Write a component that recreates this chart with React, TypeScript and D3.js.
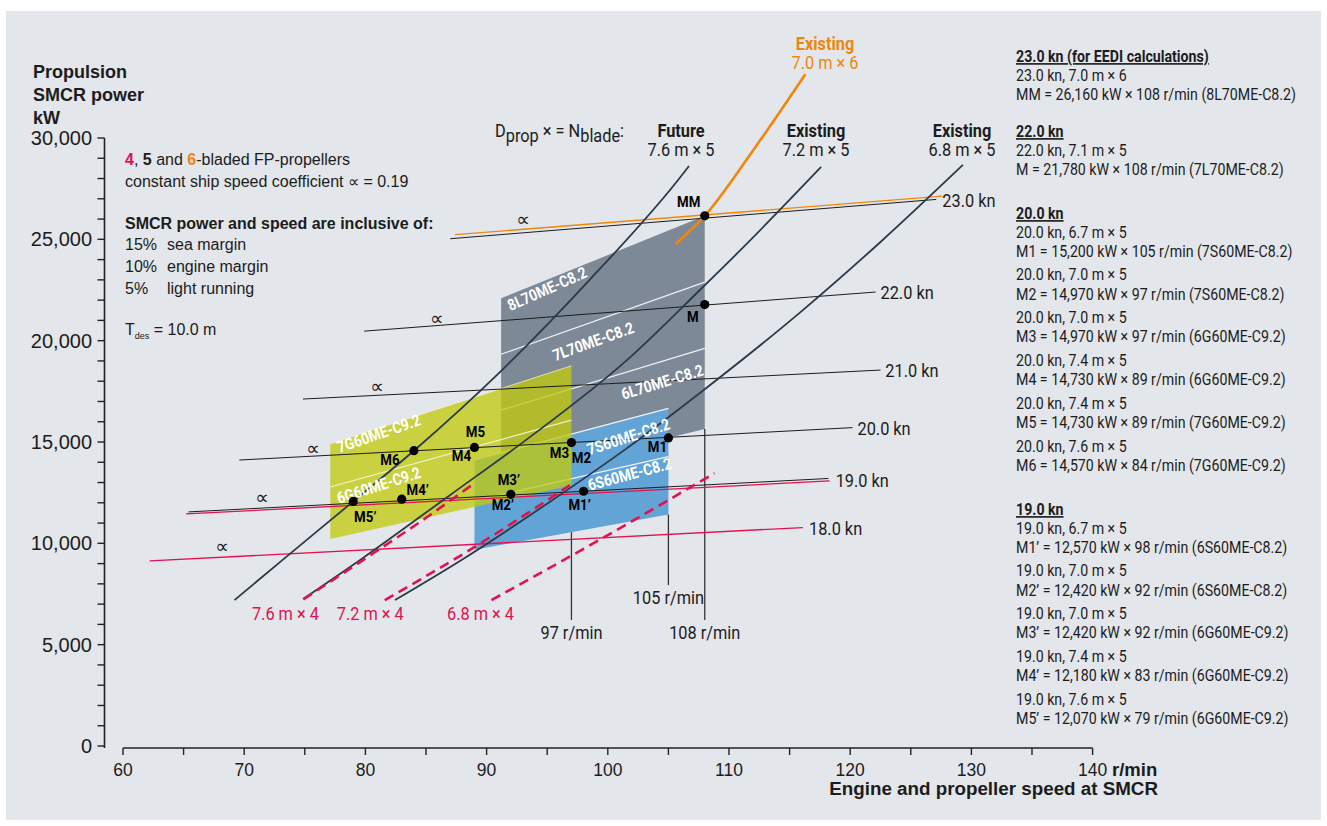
import React from "react";
import * as d3 from "d3";

const W = 1327;
const H = 826;

// ---------- axis ticks ----------
const speedMajorTicks = [60, 70, 80, 90, 100, 110, 120, 130, 140];
const speedMinorTicks = [60, 65, 70, 75, 80, 85, 90, 95, 100, 105, 110, 115, 120, 125, 130, 135, 140];
const powerMajorTicks = [0, 5000, 10000, 15000, 20000, 25000, 30000];
const powerTickLabels = ["0", "5,000", "10,000", "15,000", "20,000", "25,000", "30,000"];
const powerMinorTicks = d3.range(0, 30001, 1000);

// ---------- propeller curves [r/min, kW] ----------
const prop76x5: [number, number][] = [[69.2, 7200], [73, 9100], [79, 12070], [84, 14570], [91.1, 18450], [98.5, 23000], [105.8, 27930], [106.7, 28620]];
const prop72x5: [number, number][] = [[74.85, 7250], [79.8, 9280], [87, 12390], [93.1, 15030], [101.6, 19050], [107.6, 22500], [111, 24500], [117.6, 28570]];
const prop68x5: [number, number][] = [[82.44, 7200], [87.8, 9130], [95.2, 12040], [101.5, 14660], [107.6, 17420], [115.9, 21410], [122.5, 24870], [129.3, 28670]];
const prop76x4: [number, number][] = [[74.9, 7240], [80, 9250], [85.1, 11300], [88.8, 12880]];
const prop72x4: [number, number][] = [[81.6, 7200], [89.5, 10000], [97.3, 13040]];
const prop68x4: [number, number][] = [[90.4, 7200], [99.4, 10200], [108.8, 13460]];
const prop70x6: [number, number][] = [[105.6, 24770], [108, 26160], [112, 29400], [116.3, 33150]];

// ---------- constant ship speed lines [r/min, kW] ----------
const kn23orange: [number, number][] = [[87.4, 25230], [127.6, 27130]];
const kn23: [number, number][] = [[87, 25030], [127.1, 26970]];
const kn22: [number, number][] = [[79.9, 20470], [122.1, 22400]];
const kn21: [number, number][] = [[74.85, 17120], [122.5, 18550]];
const kn20: [number, number][] = [[69.6, 14110], [120.2, 15710]];
const kn19: [number, number][] = [[65.4, 11550], [118.2, 13200]];
const kn19red: [number, number][] = [[65.2, 11450], [118.3, 13080]];
const kn18red: [number, number][] = [[62.2, 9130], [116.1, 10780]];

const speedLabels = [
  { text: "23.0 kn", rpm: 127.6, kw: 26960 },
  { text: "22.0 kn", rpm: 122.5, kw: 22380 },
  { text: "21.0 kn", rpm: 122.9, kw: 18540 },
  { text: "20.0 kn", rpm: 120.6, kw: 15700 },
  { text: "19.0 kn", rpm: 118.8, kw: 13130 },
  { text: "18.0 kn", rpm: 116.6, kw: 10780 },
];
const alphaMarks: [number, number][] = [[93.0, 26000], [85.9, 21120], [80.96, 17760], [75.68, 14700], [71.47, 12290], [68.17, 9870]];

// ---------- engine layout areas [r/min, kW] ----------
const areaL70: [number, number][] = [[91.2, 22090], [108, 26160], [108, 15640], [91.2, 13200]];
const areaL70Lines: [number, number][][] = [[[91.2, 19330], [108, 22890]], [[91.2, 16570], [108, 19620]]];
const areaS60: [number, number][] = [[89, 14120], [105, 16660], [105, 11420], [89, 9680]];
const areaS60Lines: [number, number][][] = [[[89, 12100], [105, 14280]]];
const areaG60: [number, number][] = [[77.1, 14910], [97, 18760], [97, 12860], [77.1, 10220]];
const areaG60Lines: [number, number][][] = [[[77.1, 12780], [97, 16080]]];

const areaLabels = [
  { text: "8L70ME-C8.2", rpm: 95.0, kw: 22550, rot: -24 },
  { text: "7L70ME-C8.2", rpm: 98.8, kw: 19950, rot: -20 },
  { text: "6L70ME-C8.2", rpm: 104.5, kw: 17950, rot: -17 },
  { text: "7S60ME-C8.2", rpm: 101.7, kw: 15250, rot: -18 },
  { text: "6S60ME-C8.2", rpm: 101.8, kw: 13400, rot: -15 },
  { text: "7G60ME-C9.2", rpm: 81.1, kw: 15400, rot: -19 },
  { text: "6G60ME-C9.2", rpm: 81.1, kw: 12850, rot: -18 },
];

// ---------- selected points ----------
const points = [
  { rpm: 108, kw: 26160 },
  { rpm: 108, kw: 21780 },
  { rpm: 105, kw: 15200 },
  { rpm: 97, kw: 14970 },
  { rpm: 89, kw: 14730 },
  { rpm: 84, kw: 14570 },
  { rpm: 98, kw: 12570 },
  { rpm: 92, kw: 12420 },
  { rpm: 83, kw: 12180 },
  { rpm: 79, kw: 12070 },
];
const pointLabels = [
  { text: "MM", rpm: 108, kw: 26160, dx: -16, dy: -14 },
  { text: "M", rpm: 108, kw: 21780, dx: -12, dy: 13 },
  { text: "M1", rpm: 105, kw: 15200, dx: -11, dy: 9 },
  { text: "M2", rpm: 97, kw: 14970, dx: 10, dy: 16 },
  { text: "M3", rpm: 97, kw: 14970, dx: -12, dy: 11 },
  { text: "M5", rpm: 89, kw: 14730, dx: 1, dy: -15 },
  { text: "M4", rpm: 89, kw: 14730, dx: -13, dy: 9 },
  { text: "M6", rpm: 84, kw: 14570, dx: -24, dy: 9 },
  { text: "M3\u2019", rpm: 92, kw: 12420, dx: -2, dy: -14 },
  { text: "M2\u2019", rpm: 92, kw: 12420, dx: -8, dy: 11 },
  { text: "M1\u2019", rpm: 98, kw: 12570, dx: -4, dy: 14 },
  { text: "M4\u2019", rpm: 83, kw: 12180, dx: 16, dy: -9 },
  { text: "M5\u2019", rpm: 79, kw: 12070, dx: 12, dy: 16 },
];

// ---------- speed reference lines ----------
const rpmMarks = [
  { rpm: 97, from: 10550, to: 6220, label: "97 r/min", labelKw: 5620 },
  { rpm: 105, from: 11420, to: 7940, label: "105 r/min", labelKw: 7350 },
  { rpm: 108, from: 15640, to: 6220, label: "108 r/min", labelKw: 5620 },
];

// ---------- text panels ----------
const propHeads = [
  { title: "Future", sub: "7.6 m \u00d7 5", cx: 681 },
  { title: "Existing", sub: "7.2 m \u00d7 5", cx: 816 },
  { title: "Existing", sub: "6.8 m \u00d7 5", cx: 962 },
];
const fourBladeLabels = [
  { text: "7.6 m \u00d7 4", rpm: 73.4 },
  { text: "7.2 m \u00d7 4", rpm: 80.4 },
  { text: "6.8 m \u00d7 4", rpm: 89.5 },
];

const panelGroups = [
  { head: "23.0 kn (for EEDI calculations)", y: 56, rows: [["23.0 kn, 7.0 m \u00d7 6", "MM = 26,160 kW \u00d7 108 r/min (8L70ME-C8.2)"]] },
  { head: "22.0 kn", y: 131, rows: [["22.0 kn, 7.1 m \u00d7 5", "M = 21,780 kW \u00d7 108 r/min (7L70ME-C8.2)"]] },
  {
    head: "20.0 kn", y: 213, rows: [
      ["20.0 kn, 6.7 m \u00d7 5", "M1 = 15,200 kW \u00d7 105 r/min (7S60ME-C8.2)"],
      ["20.0 kn, 7.0 m \u00d7 5", "M2 = 14,970 kW \u00d7 97 r/min (7S60ME-C8.2)"],
      ["20.0 kn, 7.0 m \u00d7 5", "M3 = 14,970 kW \u00d7 97 r/min (6G60ME-C9.2)"],
      ["20.0 kn, 7.4 m \u00d7 5", "M4 = 14,730 kW \u00d7 89 r/min (6G60ME-C9.2)"],
      ["20.0 kn, 7.4 m \u00d7 5", "M5 = 14,730 kW \u00d7 89 r/min (7G60ME-C9.2)"],
      ["20.0 kn, 7.6 m \u00d7 5", "M6 = 14,570 kW \u00d7 84 r/min (7G60ME-C9.2)"],
    ]
  },
  {
    head: "19.0 kn", y: 509, rows: [
      ["19.0 kn, 6.7 m \u00d7 5", "M1\u2019 = 12,570 kW \u00d7 98 r/min (6S60ME-C8.2)"],
      ["19.0 kn, 7.0 m \u00d7 5", "M2\u2019 = 12,420 kW \u00d7 92 r/min (6S60ME-C8.2)"],
      ["19.0 kn, 7.0 m \u00d7 5", "M3\u2019 = 12,420 kW \u00d7 92 r/min (6G60ME-C9.2)"],
      ["19.0 kn, 7.4 m \u00d7 5", "M4\u2019 = 12,180 kW \u00d7 83 r/min (6G60ME-C9.2)"],
      ["19.0 kn, 7.6 m \u00d7 5", "M5\u2019 = 12,070 kW \u00d7 79 r/min (6G60ME-C9.2)"],
    ]
  },
];

const COND = "Roboto, 'Liberation Sans', Arial, sans-serif";
const SANS = "'Liberation Sans', Arial, Helvetica, sans-serif";
const SX = 0.86;
const NAVY = "#2a3a4a";
const RED = "#e2124f";
const ORANGE = "#f0870a";
const INK = "#1c1c1c";

type NTProps = {
  x: number; y: number; size: number; anchor?: "start" | "middle" | "end"; bold?: boolean;
  fill?: string; rot?: number; sx?: number; underline?: boolean; central?: boolean; children: React.ReactNode;
};
function NT({ x, y, size, anchor = "start", bold = false, fill = INK, rot = 0, sx = SX, underline = false, central = false, children }: NTProps) {
  return (
    <text
      transform={`translate(${x},${y}) rotate(${rot}) scale(${sx},1)`}
      textAnchor={anchor}
      dominantBaseline={central ? "central" : undefined}
      fontFamily={COND}
      fontSize={size}
      fontWeight={bold ? "bold" : "normal"}
      fill={fill}
      textDecoration={underline ? "underline" : undefined}
    >
      {children}
    </text>
  );
}

export default function App() {
  const x = d3.scaleLinear().domain([60, 140]).range([123, 1092.6]);
  const y = d3.scaleLinear().domain([0, 30000]).range([746, 138]);

  const curve = d3.line<[number, number]>().x(d => x(d[0])).y(d => y(d[1])).curve(d3.curveMonotoneX);
  const straight = d3.line<[number, number]>().x(d => x(d[0])).y(d => y(d[1]));
  const poly = (p: [number, number][]) => straight(p) + "Z";

  return (
    <svg width={W} height={H} style={{ position: "absolute", left: 0, top: 0 }} xmlns="http://www.w3.org/2000/svg">
      <rect x={0} y={0} width={W} height={H} fill="#ffffff" />
      <rect x={6} y={11} width={1315} height={809} fill="#e3e6ea" />

      {/* engine layout areas */}
      <path d={poly(areaL70)} fill="#7d8996" />
      {areaL70Lines.map((l, i) => <path key={"gl" + i} d={straight(l)!} stroke="#eef1f4" strokeWidth={1.2} fill="none" />)}
      <path d={poly(areaS60)} fill="#62a4d6" />
      <path d={straight([areaS60[0], areaS60[1]])!} stroke="#eef4fa" strokeWidth={1.2} fill="none" />
      {areaS60Lines.map((l, i) => <path key={"bl" + i} d={straight(l)!} stroke="#eef4fa" strokeWidth={1.2} fill="none" />)}
      <path d={poly(areaG60)} fill="rgb(194,203,10)" fillOpacity={0.76} />
      <path d={straight([areaG60[0], areaG60[1]])!} stroke="#f4f6d8" strokeWidth={1} strokeOpacity={0.7} fill="none" />
      {areaG60Lines.map((l, i) => <path key={"yl" + i} d={straight(l)!} stroke="#f4f6d8" strokeWidth={1.2} strokeOpacity={0.9} fill="none" />)}

      {/* r/min reference lines */}
      {rpmMarks.map((m, i) => (
        <g key={"rm" + i}>
          <line x1={x(m.rpm)} x2={x(m.rpm)} y1={y(m.from)} y2={y(m.to)} stroke="#333" strokeWidth={1.3} />
          <NT x={x(m.rpm)} y={y(m.labelKw) + 7} size={19} anchor="middle">{m.label}</NT>
        </g>
      ))}

      {/* constant ship speed lines */}
      <path d={straight(kn18red)!} stroke={RED} strokeWidth={1.3} fill="none" />
      <path d={straight(kn19red)!} stroke={RED} strokeWidth={1.3} fill="none" />
      <path d={straight(kn19)!} stroke={INK} strokeWidth={1} fill="none" />
      <path d={straight(kn20)!} stroke={INK} strokeWidth={1} fill="none" />
      <path d={straight(kn21)!} stroke={INK} strokeWidth={1} fill="none" />
      <path d={straight(kn22)!} stroke={INK} strokeWidth={1} fill="none" />
      <path d={straight(kn23)!} stroke={INK} strokeWidth={1} fill="none" />
      <path d={straight(kn23orange)!} stroke={ORANGE} strokeWidth={1.4} fill="none" />
      {speedLabels.map((s, i) => (
        <NT key={"sl" + i} x={x(s.rpm)} y={y(s.kw) + 7} size={19}>{s.text}</NT>
      ))}
      {alphaMarks.map((a, i) => (
        <text key={"am" + i} x={x(a[0])} y={y(a[1]) + 7} textAnchor="middle" fontFamily="'DejaVu Sans', sans-serif" fontSize={19} fill={INK}>{"\u221d"}</text>
      ))}

      {/* propeller curves */}
      {[prop76x5, prop72x5, prop68x5].map((c, i) => (
        <path key={"pc" + i} d={curve(c)!} stroke={NAVY} strokeWidth={1.8} fill="none" />
      ))}
      {[prop76x4, prop72x4, prop68x4].map((c, i) => (
        <path key={"pr" + i} d={curve(c)!} stroke={RED} strokeWidth={2.6} strokeDasharray="10 6" fill="none" />
      ))}
      <path d={curve(prop70x6)!} stroke={ORANGE} strokeWidth={2.6} fill="none" />

      {/* area labels */}
      {areaLabels.map((a, i) => (
        <NT key={"al" + i} x={x(a.rpm)} y={y(a.kw)} rot={a.rot} size={16} bold anchor="middle" central fill="#ffffff">{a.text}</NT>
      ))}

      {/* points */}
      {points.map((p, i) => <circle key={"pt" + i} cx={x(p.rpm)} cy={y(p.kw)} r={4.6} fill="#000" />)}
      {pointLabels.map((p, i) => (
        <NT key={"pl" + i} x={x(p.rpm) + p.dx} y={y(p.kw) + p.dy} size={15.5} bold anchor="middle" central fill="#000">{p.text}</NT>
      ))}

      {/* axes */}
      <line x1={104.5} x2={104.5} y1={y(30000)} y2={y(0) + 2} stroke="#222" strokeWidth={1.6} />
      {powerMinorTicks.map((t, i) => <line key={"ymt" + i} x1={97.5} x2={104.5} y1={y(t)} y2={y(t)} stroke="#222" strokeWidth={1.4} />)}
      {powerMajorTicks.map((t, i) => (
        <text key={"ytl" + i} x={92} y={y(t) + 7} textAnchor="end" fontFamily={SANS} fontSize={20} fill={INK}>{powerTickLabels[i]}</text>
      ))}
      <line x1={x(60)} x2={x(140)} y1={748} y2={748} stroke="#222" strokeWidth={1.6} />
      {speedMinorTicks.map((t, i) => <line key={"xmt" + i} x1={x(t)} x2={x(t)} y1={748} y2={755} stroke="#222" strokeWidth={1.4} />)}
      {speedMajorTicks.map((t, i) => (
        <text key={"xtl" + i} x={x(t)} y={776} textAnchor="middle" fontFamily={SANS} fontSize={17.5} fill={INK}>{String(t)}</text>
      ))}
      <text x={1112} y={776} fontFamily={SANS} fontWeight="bold" fontSize={18.5} fill={INK}>r/min</text>
      <text x={1158} y={795} textAnchor="end" fontFamily={SANS} fontWeight="bold" fontSize={18.8} fill={INK}>Engine and propeller speed at SMCR</text>

      {/* y title */}
      <text fontFamily={SANS} fontWeight="bold" fontSize={18} fill={INK}>
        <tspan x={33} y={78}>Propulsion</tspan>
        <tspan x={33} y={101}>SMCR power</tspan>
        <tspan x={33} y={124}>kW</tspan>
      </text>

      {/* legend */}
      <g fontFamily={SANS} fontSize={16} fill={INK}>
        <text x={125} y={165}>
          <tspan fill={RED} fontWeight="bold">4</tspan>, <tspan fontWeight="bold">5</tspan> and <tspan fill={ORANGE} fontWeight="bold">6</tspan>-bladed FP-propellers
        </text>
        <text x={125} y={187}>constant ship speed coefficient {"\u221d"} = 0.19</text>
        <text x={125} y={229} fontWeight="bold">SMCR power and speed are inclusive of:</text>
        <text x={125} y={250}>15%</text><text x={167} y={250}>sea margin</text>
        <text x={125} y={272}>10%</text><text x={167} y={272}>engine margin</text>
        <text x={125} y={294}>5%</text><text x={167} y={294}>light running</text>
        <text x={125} y={335}>T<tspan fontSize={9} dy={4}>des</tspan><tspan dy={-4}> = 10.0 m</tspan></text>
      </g>

      {/* propeller headings */}
      <NT x={495} y={137} size={19}>
        D<tspan dy={5}>prop</tspan><tspan dy={-5}> {"\u00d7"} = N</tspan><tspan dy={5}>blade</tspan><tspan dy={-5}>:</tspan>
      </NT>
      {propHeads.map((p, i) => (
        <g key={"ph" + i}>
          <NT x={p.cx} y={137} size={19} bold anchor="middle">{p.title}</NT>
          <NT x={p.cx} y={156} size={19} anchor="middle">{p.sub}</NT>
        </g>
      ))}
      <NT x={825} y={50} size={19} bold anchor="middle" fill={ORANGE}>Existing</NT>
      <NT x={825} y={69} size={19} anchor="middle" fill={ORANGE}>7.0 m {"\u00d7"} 6</NT>
      {fourBladeLabels.map((f, i) => (
        <NT key={"fb" + i} x={x(f.rpm)} y={620} size={19} anchor="middle" fill={RED}>{f.text}</NT>
      ))}

      {/* right panel */}
      {panelGroups.map((g, gi) => (
        <g key={"pg" + gi}>
          <NT x={1016} y={g.y + 6} size={16.5} bold underline>{g.head}</NT>
          {g.rows.map((r, ri) => (
            <g key={"pr" + ri}>
              <NT x={1016} y={g.y + 18.5 + ri * 42.8 + 6} size={16.5}>{r[0]}</NT>
              <NT x={1016} y={g.y + 37.8 + ri * 42.8 + 6} size={16.5}>{r[1]}</NT>
            </g>
          ))}
        </g>
      ))}
    </svg>
  );
}
